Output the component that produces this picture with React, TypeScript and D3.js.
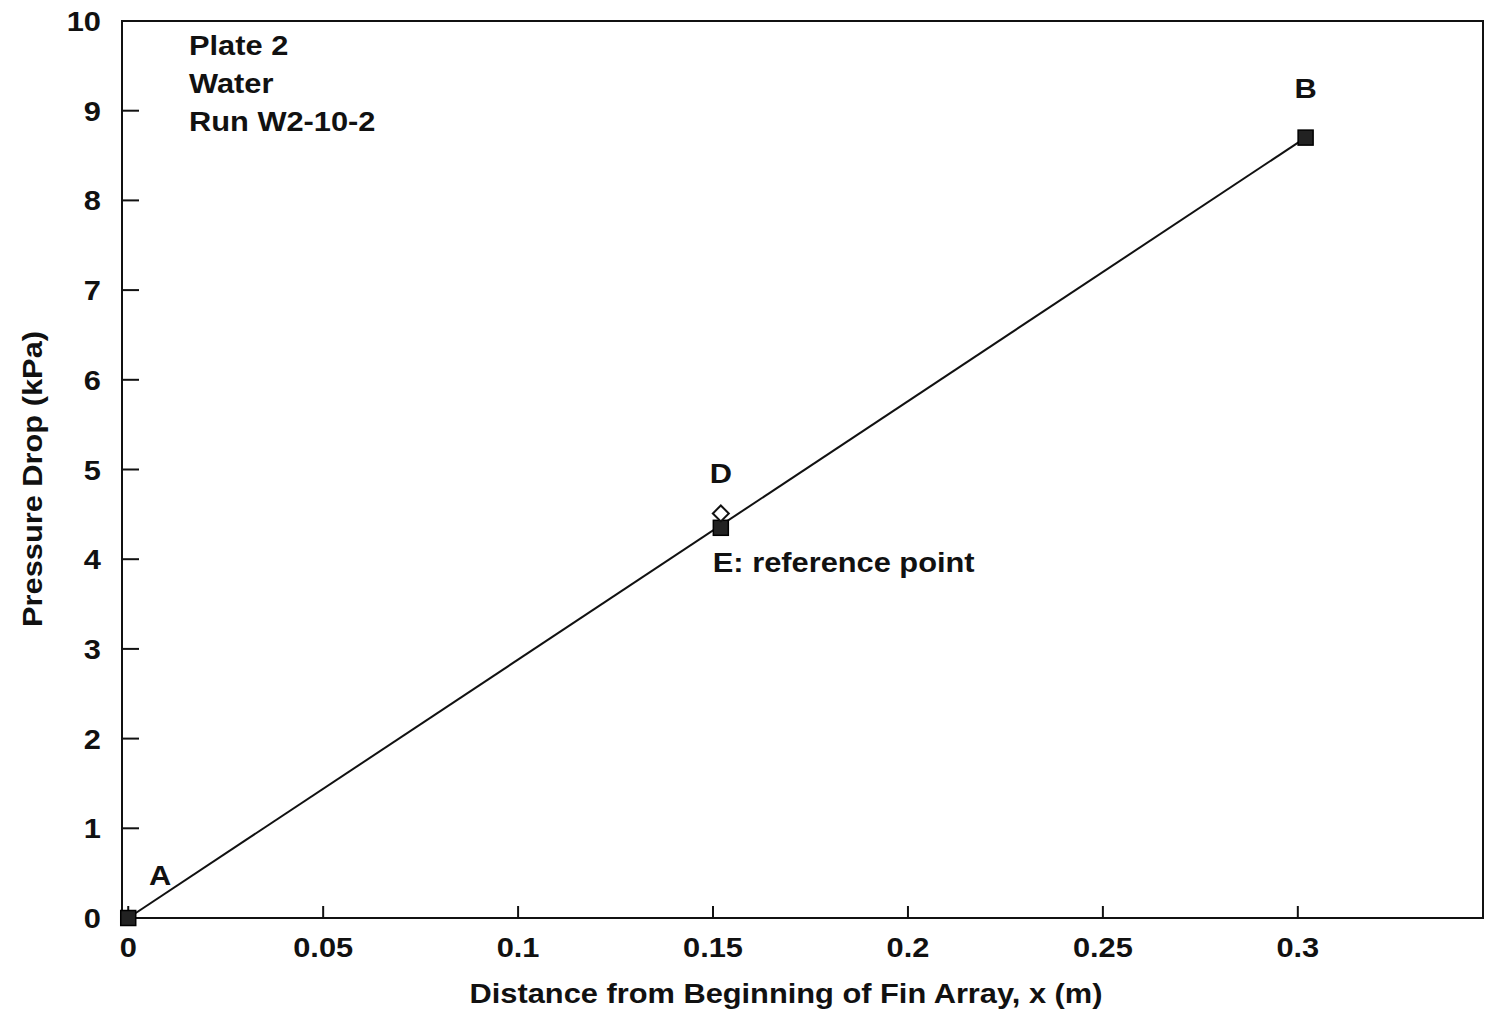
import * as d3 from 'd3';
import type { ReactNode } from 'react';

const lineX = [0, 0.302];
const lineY = [0, 8.7];

// filled squares: A, E, B
const squareX = [0, 0.152, 0.302];
const squareY = [0, 4.35, 8.7];

// open diamond: D
const diamondX = [0.152];
const diamondY = [4.51];

const xTicks = [0, 0.05, 0.1, 0.15, 0.2, 0.25, 0.3];
const xTickLabels = ['0', '0.05', '0.1', '0.15', '0.2', '0.25', '0.3'];
const yTicks = [0, 1, 2, 3, 4, 5, 6, 7, 8, 9, 10];

const pointLabels = ['A', 'D', 'E: reference point', 'B'];
const infoLines = ['Plate 2', 'Water', 'Run W2-10-2'];

const width = 1486;
const height = 1013;
const font = '"Liberation Sans", Arial, Helvetica, sans-serif';

// the scanned type is a bit wider than Liberation Sans, so stretch it
const T = ({
  x,
  y,
  anchor = 'start',
  rotate = 0,
  children,
}: {
  x: number;
  y: number;
  anchor?: string;
  rotate?: number;
  children: ReactNode;
}) => (
  <text
    transform={`translate(${x},${y}) rotate(${rotate}) scale(1.1,1)`}
    textAnchor={anchor}
    fontSize={28}
    fill="#111"
  >
    {children}
  </text>
);

export default function App() {
  const x = d3.scaleLinear().domain([-0.0016, 0.3475]).range([122, 1483]);
  const y = d3.scaleLinear().domain([0, 10]).range([918, 21]);

  const line = d3
    .line<number>()
    .x((d) => x(d))
    .y((_, i) => y(lineY[i]));

  const sq = 15;
  const dm = 8;

  return (
    <svg
      width={width}
      height={height}
      style={{ position: 'absolute', left: 0, top: 0, background: '#fff' }}
      fontFamily={font}
      fontWeight="bold"
    >
      {/* frame */}
      <rect
        x={x.range()[0]}
        y={y(10)}
        width={x.range()[1] - x.range()[0]}
        height={y(0) - y(10)}
        fill="none"
        stroke="#111"
        strokeWidth={2}
      />

      {/* y ticks */}
      {yTicks.map((t) => (
        <g key={'y' + t}>
          <line x1={x.range()[0]} x2={x.range()[0] + 17} y1={y(t)} y2={y(t)} stroke="#111" strokeWidth={2} />
          <T x={101} y={y(t) + 10} anchor="end">
            {t}
          </T>
        </g>
      ))}

      {/* x ticks */}
      {xTicks.map((t, i) => (
        <g key={'x' + t}>
          <line x1={x(t)} x2={x(t)} y1={y(0)} y2={y(0) - 12} stroke="#111" strokeWidth={2} />
          <T x={x(t)} y={957} anchor="middle">
            {xTickLabels[i]}
          </T>
        </g>
      ))}

      {/* axis titles */}
      <T x={786} y={1003} anchor="middle">
        Distance from Beginning of Fin Array, x (m)
      </T>
      <T x={42} y={479} anchor="middle" rotate={-90}>
        Pressure Drop (kPa)
      </T>

      {/* info text */}
      {infoLines.map((s, i) => (
        <T key={s} x={189} y={55 + i * 38}>
          {s}
        </T>
      ))}

      {/* fitted line */}
      <path d={line(lineX) ?? ''} fill="none" stroke="#111" strokeWidth={2} />

      {/* squares */}
      {squareX.map((v, i) => (
        <rect
          key={'s' + i}
          x={x(v) - sq / 2}
          y={y(squareY[i]) - sq / 2}
          width={sq}
          height={sq}
          fill="#222"
          stroke="#000"
          strokeWidth={1.5}
        />
      ))}

      {/* diamond */}
      {diamondX.map((v, i) => {
        const cx = x(v);
        const cy = y(diamondY[i]);
        return (
          <path
            key={'d' + i}
            d={`M${cx},${cy - dm}L${cx + dm},${cy}L${cx},${cy + dm}L${cx - dm},${cy}Z`}
            fill="#fff"
            stroke="#111"
            strokeWidth={2}
          />
        );
      })}

      {/* point labels */}
      <T x={x(0) + 32} y={885} anchor="middle">
        {pointLabels[0]}
      </T>
      <T x={x(0.152)} y={483} anchor="middle">
        {pointLabels[1]}
      </T>
      <T x={x(0.152) - 8} y={572}>
        {pointLabels[2]}
      </T>
      <T x={x(0.302)} y={98} anchor="middle">
        {pointLabels[3]}
      </T>
    </svg>
  );
}
